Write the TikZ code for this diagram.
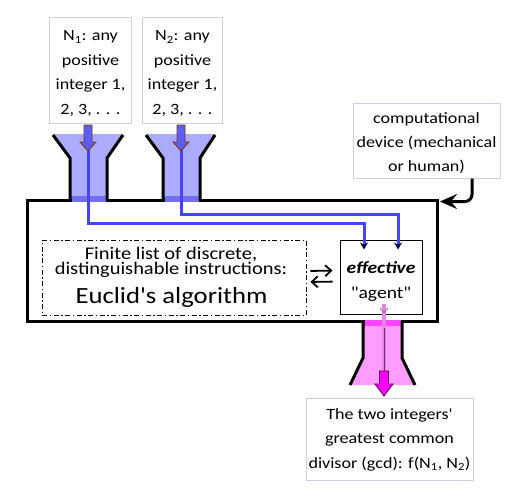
\documentclass[tikz,border=0pt]{standalone}
\usepackage{fontspec}
\setmainfont{Carlito}[FakeStretch=1.15,Ligatures=TeXOff]
\usetikzlibrary{arrows.meta}
\definecolor{boxline}{HTML}{C8D2E3}
\definecolor{funblue}{HTML}{ABABFF}
\definecolor{bandblue}{HTML}{7070EE}
\definecolor{lineblue}{HTML}{4444FF}
\definecolor{arrblue}{HTML}{5C5CFF}
\definecolor{arredge}{HTML}{7A3A00}
\definecolor{funpink}{HTML}{FF9CFF}
\definecolor{bandpink}{HTML}{FF44FF}
\definecolor{linepink}{HTML}{E286E2}
\definecolor{arrpink}{HTML}{FF00FF}
\definecolor{pinkedge}{HTML}{500050}
\tikzset{
  tbox/.style={draw=boxline,line width=1pt,inner sep=0pt,fill=white},
  txt/.style={inner sep=0pt,align=center,anchor=north},
  heavy/.style={line width=3pt,line cap=rect,line join=miter},
  blueline/.style={draw=lineblue,line width=3pt,line join=miter,-{Stealth[length=7pt,width=8pt,color=black!75!blue]}},
  dbl/.style={line width=1.8pt,-{Straight Barb[length=6pt,width=11pt]}},
  inarrow/.pic={\filldraw[fill=arrblue,draw=arredge,line width=0.8pt,line join=miter]
     (-4,0) -- (4,0) -- (4,17) -- (8,17) -- (0,26) -- (-8,17) -- (-4,17) -- cycle;},
  outarrow/.pic={\filldraw[fill=arrpink,draw=pinkedge,line width=0.8pt,line join=miter]
     (-4.5,0) -- (4.5,0) -- (4.5,13) -- (9,13) -- (0,25) -- (-9,13) -- (-4.5,13) -- cycle;}
}
\begin{document}
\begin{tikzpicture}[x=1pt,y=-1pt]
\useasboundingbox (0,0) rectangle (527,496);

% funnel fills
\fill[funblue] (53,134) -- (123,134) -- (107,158) -- (107,200) -- (70,200) -- (70,158) -- cycle;
\fill[funblue] (146,134) -- (215,134) -- (200,158) -- (200,200) -- (163,200) -- (163,158) -- cycle;
\fill[bandblue] (70,196) rectangle (107,202);
\fill[bandblue] (163,196) rectangle (200,202);
\fill[funpink] (363,321) -- (402,321) -- (402,358) -- (415,385) -- (350,385) -- (363,358) -- cycle;
\fill[bandpink] (363,320) rectangle (402,326);

% main box outline (with openings)
\draw[heavy] (70,200) -- (27,200) -- (27,321) -- (363,321);
\draw[heavy] (402,321) -- (437,321) -- (437,200) -- (200,200);
\draw[heavy] (163,200) -- (107,200);
% funnel outlines
\draw[heavy,line cap=butt] (53,135) -- (70,158) -- (70,200);
\draw[heavy,line cap=butt] (123,135) -- (107,158) -- (107,200);
\draw[heavy,line cap=butt] (146,135) -- (163,158) -- (163,200);
\draw[heavy,line cap=butt] (215,135) -- (200,158) -- (200,200);
\draw[heavy,line cap=butt] (363,321) -- (363,358) -- (350,385);
\draw[heavy,line cap=butt] (402,321) -- (402,358) -- (415,385);

% boxes
\node[tbox,minimum width=82pt,minimum height=106pt] (N1) at (90,70) {};
\node[tbox,minimum width=80pt,minimum height=106pt] (N2) at (182,70) {};
\node[tbox,minimum width=147pt,minimum height=75pt] (comp) at (426.5,140.5) {};
\node[tbox,minimum width=167pt,minimum height=82pt] (out) at (389.5,439) {};
\node[draw=black,line width=1pt,fill=white,inner sep=0pt,minimum width=82pt,minimum height=74pt] (agent) at (381,277) {};
\node[draw=black,line width=0.9pt,dash pattern=on 5pt off 2.5pt on 1.5pt off 2.5pt,inner sep=0pt,minimum width=264pt,minimum height=75pt] (list) at (174,277.5) {};

% texts
\node[txt,font=\fontsize{15.7}{24.4}\selectfont] (N1t) at (90.5,25) {\rule{0pt}{15.7pt}N\textsubscript{1}: any\\positive\\integer 1,\\2, 3, . . .};
\node[txt,font=\fontsize{15.7}{24.4}\selectfont] (N2t) at (182.5,25) {\rule{0pt}{15.7pt}N\textsubscript{2}: any\\positive\\integer 1,\\2, 3, . . .};
\node[txt,font=\fontsize{15.7}{24}\selectfont] (compt) at (426.5,107.3) {\rule{0pt}{15.7pt}computational\\device (mechanical\\or human)};
\node[txt,font=\fontsize{15.7}{24.5}\selectfont] (outt) at (389.5,403.3) {\rule{0pt}{15.7pt}The two integers'\\greatest common\\divisor (gcd): f(N\textsubscript{1}, N\textsubscript{2})};
\node[txt,font=\fontsize{17}{25}\selectfont] (agentt) at (381,256) {\rule{0pt}{17pt}\textbf{\textit{effective}}\\"agent"};
\node[txt,font=\fontsize{17.8}{14}\selectfont] (listt) at (171,241.2) {\rule{0pt}{17.8pt}Finite list of discrete,\\distinguishable instructions:};
\node[inner sep=0pt,anchor=base,font=\fontsize{23.2}{28}\selectfont] (euclid) at (171.5,303) {Euclid's algorithm};

% blue connectors
\coordinate (a1) at (88,142);
\coordinate (a2) at (181,142);
\coordinate (t1) at (364,223);
\coordinate (t2) at (398,214);
\coordinate (g1) at (364,249.5);
\coordinate (g2) at (398,249.5);
\draw[blueline] (a1) |- (t1) -- (g1);
\draw[blueline] (a2) |- (t2) -- (g2);
\pic at (88,125) {inarrow};
\pic at (181,125) {inarrow};

% pink connector
\coordinate (p0) at (384,304);
\coordinate (p1) at (384,371);
\draw[linepink,line width=3.5pt] (p0) -- (p1);
\draw[pinkedge!70!linepink,line width=0.8pt] (384,328) -- (p1);
\draw[linepink!70!pinkedge,line width=0.9pt] (380,308) -- (384,312.5) -- (388,308);
\pic at (384,371) {outarrow};

% instruction exchange arrows
\draw[dbl,shorten <=4pt,shorten >=7pt] ([yshift=6.5pt]list.east) -- ([yshift=6.5pt]agent.west);
\draw[dbl,shorten <=7pt,shorten >=4pt] ([yshift=-4.5pt]agent.west) -- ([yshift=-4.5pt]list.east);

% device arrow
\coordinate (devx) at (472,0);
\coordinate (mainNE) at (440,201.5);
\draw[line width=3pt,rounded corners=7pt,-{Stealth[length=17pt,width=15pt,inset=6pt]}] (comp.south -| devx) |- (mainNE);
\end{tikzpicture}
\end{document}
